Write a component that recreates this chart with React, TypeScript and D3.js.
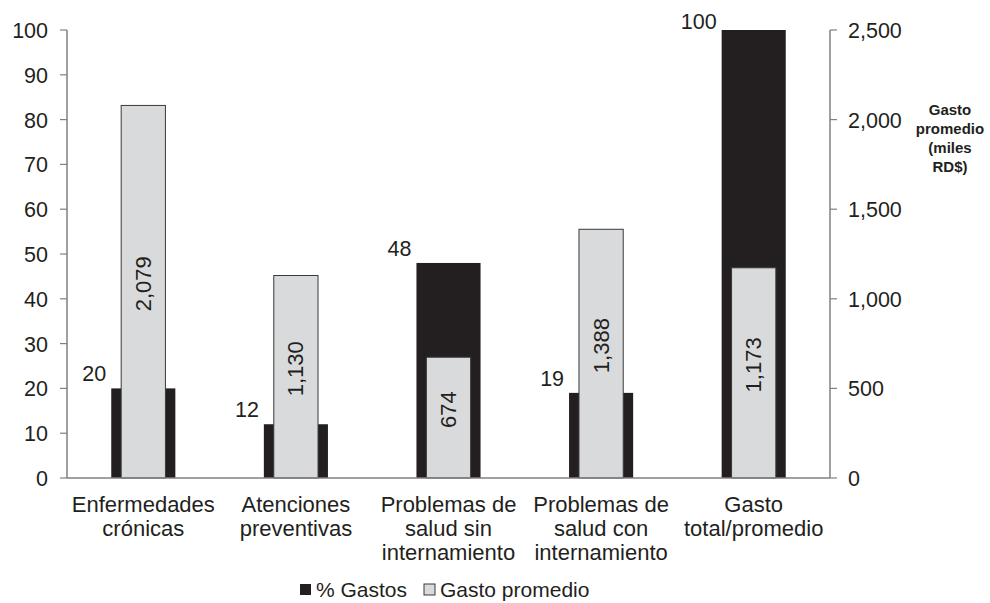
import React from 'react';
import * as d3 from 'd3';

const categories = [
  'Enfermedades\ncrónicas',
  'Atenciones\npreventivas',
  'Problemas de\nsalud sin\ninternamiento',
  'Problemas de\nsalud con\ninternamiento',
  'Gasto\ntotal/promedio',
];
const pctGastos = [20, 12, 48, 19, 100];
const gastoPromedio = [2079, 1130, 674, 1388, 1173];
const leftTicks = [0, 10, 20, 30, 40, 50, 60, 70, 80, 90, 100];
const rightTicks = [0, 500, 1000, 1500, 2000, 2500];

const W = 990;
const H = 603;
const margin = { left: 67, right: 160, top: 30, bottom: 125 };
const FONT = '"Liberation Sans", Arial, sans-serif';

const App: React.FC = () => {
  const x = d3
    .scaleBand<string>()
    .domain(categories)
    .range([margin.left, W - margin.right])
    .padding(0);
  const yL = d3.scaleLinear().domain([0, 100]).range([H - margin.bottom, margin.top]);
  const yR = d3.scaleLinear().domain([0, 2500]).range([H - margin.bottom, margin.top]);

  const blackW = x.bandwidth() * 0.42;
  const greyW = x.bandwidth() * 0.29;
  const fmt = d3.format(',');
  const x0 = margin.left;
  const x1 = W - margin.right;
  const y0 = yL(0);

  return (
    <svg
      width={W}
      height={H}
      style={{ position: 'absolute', left: 0, top: 0, background: '#fff' }}
      fontFamily={FONT}
    >
      {/* bars */}
      {categories.map((c, i) => {
        const cx = x(c)! + x.bandwidth() / 2;
        const bTop = yL(pctGastos[i]);
        const gTop = yR(gastoPromedio[i]);
        return (
          <g key={c}>
            <rect x={cx - blackW / 2} y={bTop} width={blackW} height={y0 - bTop} fill="#231f20" />
            <rect
              x={cx - greyW / 2}
              y={gTop}
              width={greyW}
              height={y0 - gTop}
              fill="#d9dadc"
              stroke="#3a3a3a"
              strokeWidth={1}
            />
            <text
              x={cx - blackW / 2 - 5}
              y={Math.max(bTop - 7, 29)}
              textAnchor="end"
              fontSize={21.5}
              fill="#231f20"
            >
              {pctGastos[i]}
            </text>
            <text
              transform={`translate(${cx},${(gTop + y0) / 2 - 8}) rotate(-90)`}
              textAnchor="middle"
              dominantBaseline="central"
              fontSize={22}
              fill="#231f20"
            >
              {fmt(gastoPromedio[i])}
            </text>
            {c.split('\n').map((line, j) => (
              <text
                key={j}
                x={cx}
                y={512 + j * 24}
                textAnchor="middle"
                fontSize={22}
                fill="#231f20"
              >
                {line}
              </text>
            ))}
          </g>
        );
      })}

      {/* left axis */}
      <line x1={x0} x2={x0} y1={margin.top} y2={y0} stroke="#808080" strokeWidth={1.5} />
      {leftTicks.map((t) => (
        <g key={t}>
          <line x1={x0 - 7} x2={x0} y1={yL(t)} y2={yL(t)} stroke="#808080" strokeWidth={1.2} />
          <text x={48} y={yL(t) + 8} textAnchor="end" fontSize={21.5} fill="#231f20">
            {t}
          </text>
        </g>
      ))}

      {/* right axis */}
      <line x1={x1} x2={x1} y1={margin.top} y2={y0} stroke="#808080" strokeWidth={1.5} />
      {rightTicks.map((t) => (
        <g key={t}>
          <line x1={x1} x2={x1 + 7} y1={yR(t)} y2={yR(t)} stroke="#808080" strokeWidth={1.2} />
          <text x={848} y={yR(t) + 8} textAnchor="start" fontSize={21.5} fill="#231f20">
            {fmt(t)}
          </text>
        </g>
      ))}

      {/* baseline */}
      <line x1={x0} x2={x1} y1={y0} y2={y0} stroke="#808080" strokeWidth={1.5} />

      {/* right axis title */}
      {['Gasto', 'promedio', '(miles', 'RD$)'].map((s, i) => (
        <text
          key={s}
          x={950}
          y={115 + i * 19}
          textAnchor="middle"
          fontSize={15}
          fontWeight="bold"
          fill="#231f20"
        >
          {s}
        </text>
      ))}

      {/* legend */}
      <g>
        <rect x={300} y={584} width={11} height={11} fill="#231f20" />
        <text x={316} y={597} fontSize={21} fill="#231f20">
          % Gastos
        </text>
        <rect x={424} y={584} width={11} height={11} fill="#d9dadc" stroke="#3a3a3a" strokeWidth={1} />
        <text x={440} y={597} fontSize={21} fill="#231f20">
          Gasto promedio
        </text>
      </g>
    </svg>
  );
};

export default App;
